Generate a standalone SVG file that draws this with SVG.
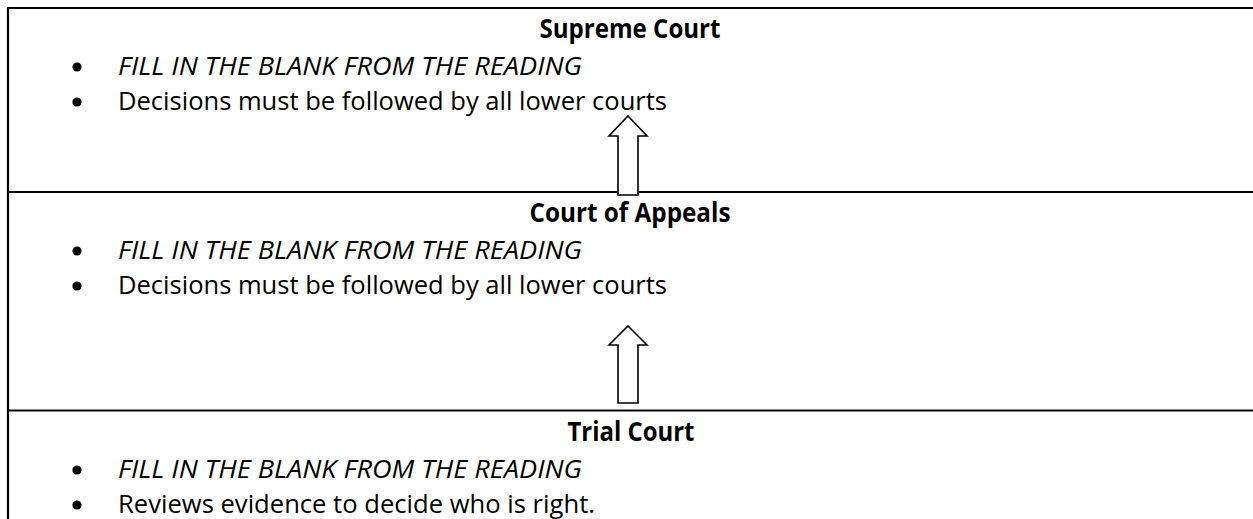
<svg xmlns="http://www.w3.org/2000/svg" width="1253" height="519" viewBox="0 0 1253 519">
  <style>
    .rule { stroke: #000; stroke-width: 2.2; fill: none; }
    .title { font-family: "Open Sans", "Liberation Sans", sans-serif; font-weight: 700; font-size: 26px; fill: #000; text-anchor: middle; }
    .item { font-family: "Open Sans", "Liberation Sans", sans-serif; font-size: 26px; fill: #000; }
    .ital { font-style: italic; }
    .bullet { fill: #000; }
    .arrow { fill: #fff; stroke: #000; stroke-width: 1.6; stroke-linejoin: miter; }
  </style>
  <rect x="0" y="0" width="1253" height="519" fill="#fff"/>
  <line class="rule" x1="8" y1="7" x2="8" y2="519"/>

  <g id="supreme-court">
    <line class="rule" x1="7" y1="8" x2="1253" y2="8"/>
    <text class="title" x="630" y="38" textLength="181" lengthAdjust="spacingAndGlyphs">Supreme Court</text>
    <circle class="bullet" cx="77" cy="67" r="4.6"/>
    <text class="item ital" x="118" y="75" textLength="464" lengthAdjust="spacingAndGlyphs">FILL IN THE BLANK FROM THE READING</text>
    <circle class="bullet" cx="77" cy="102" r="4.6"/>
    <text class="item" x="118" y="110" textLength="549" lengthAdjust="spacingAndGlyphs">Decisions must be followed by all lower courts</text>
  </g>

  <g id="court-of-appeals">
    <line class="rule" x1="7" y1="192" x2="1253" y2="192"/>
    <text class="title" x="630" y="222" textLength="201" lengthAdjust="spacingAndGlyphs">Court of Appeals</text>
    <circle class="bullet" cx="77" cy="251" r="4.6"/>
    <text class="item ital" x="118" y="259" textLength="464" lengthAdjust="spacingAndGlyphs">FILL IN THE BLANK FROM THE READING</text>
    <circle class="bullet" cx="77" cy="286" r="4.6"/>
    <text class="item" x="118" y="294" textLength="549" lengthAdjust="spacingAndGlyphs">Decisions must be followed by all lower courts</text>
  </g>

  <g id="trial-court">
    <line class="rule" x1="7" y1="410.5" x2="1253" y2="410.5"/>
    <text class="title" x="631" y="441" textLength="127" lengthAdjust="spacingAndGlyphs">Trial Court</text>
    <circle class="bullet" cx="77" cy="470" r="4.6"/>
    <text class="item ital" x="118" y="478" textLength="464" lengthAdjust="spacingAndGlyphs">FILL IN THE BLANK FROM THE READING</text>
    <circle class="bullet" cx="77" cy="505" r="4.6"/>
    <text class="item" x="118" y="513" textLength="477" lengthAdjust="spacingAndGlyphs">Reviews evidence to decide who is right.</text>
  </g>

  <g id="connectors">
    <path id="arrow-appeals-to-supreme" class="arrow" d="M628,116 L647,136 L638,136 L638,195 L618,195 L618,136 L609,136 Z"/>
    <path id="arrow-trial-to-appeals" class="arrow" d="M628,326 L647,345 L638,345 L638,403 L618,403 L618,345 L609,345 Z"/>
  </g>
</svg>
